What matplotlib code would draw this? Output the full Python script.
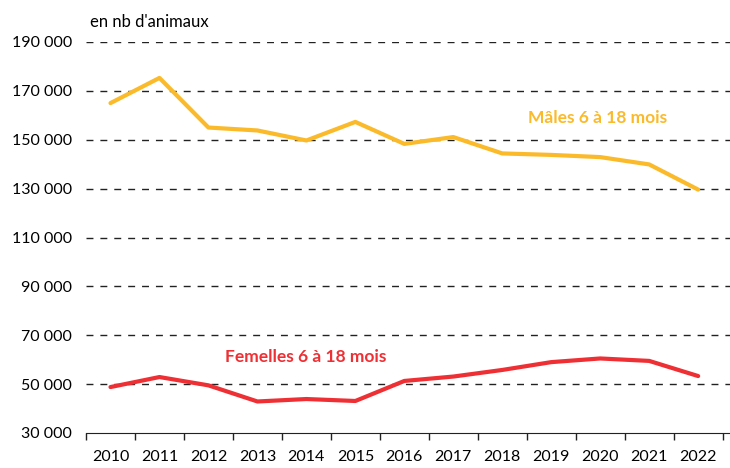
import matplotlib.pyplot as plt
from matplotlib.ticker import FuncFormatter

years = ['2010', '2011', '2012', '2013', '2014', '2015', '2016',
         '2017', '2018', '2019', '2020', '2021', '2022']
males = [165000, 175300, 155000, 153800, 149700, 157300, 148300,
         151100, 144400, 143800, 142900, 139900, 129600]
females = [48800, 52900, 49500, 42900, 43900, 43100, 51300,
           53100, 55800, 59000, 60500, 59500, 53300]

plt.rcParams['font.family'] = ['Lato', 'DejaVu Sans']

fig = plt.figure(figsize=(7.3, 4.68), dpi=100)
ax = fig.add_axes([86 / 730, 1 - 433 / 468, 1 - 86 / 730, (433 - 42) / 468])

x = list(range(len(years)))
ax.plot(x, males, color='#FBBA2A', lw=3, solid_capstyle='round', zorder=3)
ax.plot(x, females, color='#EE3034', lw=3, solid_capstyle='round', zorder=3)

ax.set_ylim(30000, 190000)
ax.set_xlim(-0.49, 12.65)
ax.set_yticks(range(30000, 190001, 20000))
ax.yaxis.set_major_formatter(FuncFormatter(lambda v, p: f'{int(v):,}'.replace(',', ' ')))
for v in range(50000, 190001, 20000):
    ax.axhline(v, color='#222222', lw=1, ls=(0, (5, 5)), zorder=1)

ax.set_xticks(x)
ax.set_xticklabels(years)
ax.set_xticks([i - 0.5 for i in range(len(years) + 1)], minor=True)
ax.tick_params(axis='x', which='major', length=0, pad=12, labelsize=11.5)
ax.tick_params(axis='x', which='minor', length=5, width=1, color='#222222')
ax.tick_params(axis='y', length=0, pad=10, labelsize=11.5)

for s in ['top', 'right', 'left']:
    ax.spines[s].set_visible(False)
ax.spines['bottom'].set_color('#222222')

ax.text(9.94, 158900, 'Mâles 6 à 18 mois', color='#FBBA2A', fontsize=12.5,
        fontweight='bold', ha='center', va='center')
ax.text(3.98, 61100, 'Femelles 6 à 18 mois', color='#EE3034', fontsize=12.5,
        fontweight='bold', ha='center', va='center')
fig.text(90 / 730, 1 - 22 / 468, "en nb d'animaux", fontsize=12, ha='left', va='center')

fig.savefig('out.png', dpi=100)
